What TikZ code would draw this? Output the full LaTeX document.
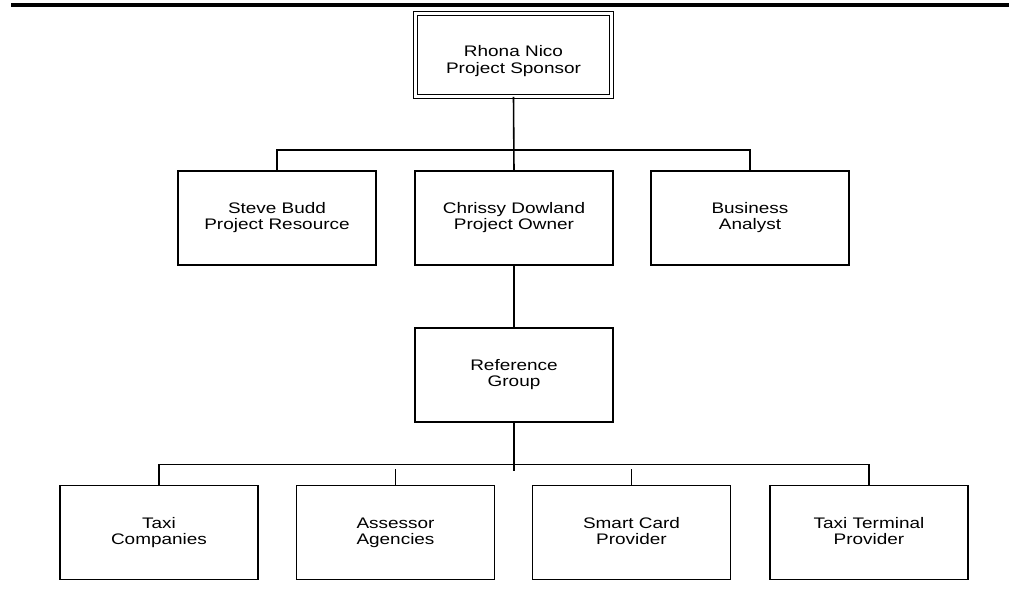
\documentclass[tikz,border=0pt]{standalone}
\usepackage{fontspec}
\setmainfont{Liberation Sans}[FakeStretch=1.24]

\tikzset{
  box/.style={draw, line width=1pt, minimum width=3.96cm, minimum height=1.88cm,
    align=center, font=\fontsize{8.7}{9.2}\selectfont,
    text height=15.8pt, text depth=2.4pt},
  topbox/.style={box, double, line width=0.5pt, double distance=1.5pt,
    minimum width=3.92cm, minimum height=1.66cm, text height=23pt},
  link/.style={line width=0.9pt}
}

\begin{document}
\begin{tikzpicture}[x=0.02cm, y=-0.02cm]
\useasboundingbox (0,0) rectangle (1009,591);
\draw[line width=1.8pt] (11,5) -- (1009,5);

\node[topbox] (rhona) at (513.5,55) {Rhona Nico\\Project Sponsor};

\node[box] (steve) at (277,218) {Steve Budd\\Project Resource};
\node[box] (chrissy) at (514,218) {Chrissy Dowland\\Project Owner};
\node[box] (analyst) at (750,218) {Business\\Analyst};

\node[box] (ref) at (514,375) {Reference\\Group};

\node[box] (taxi) at (159,532.5) {Taxi\\Companies};
\node[box] (assessor) at (395.5,532.5) {Assessor\\Agencies};
\node[box] (smart) at (631.5,532.5) {Smart Card\\Provider};
\node[box] (terminal) at (869,532.5) {Taxi Terminal\\Provider};

\draw[link] (rhona.south) -- (chrissy.north);
\draw[link] (steve.north) -- ++(0,-20) -| (analyst.north);
\draw[link] (chrissy.south) -- (ref.north);
\draw[link] (ref.south) -- ++(0,48);
\draw[link] (taxi.north) -- ++(0,-20) -| (terminal.north);
\draw[link] (assessor.north) -- ++(0,-16);
\draw[link] (smart.north) -- ++(0,-16);
\end{tikzpicture}
\end{document}
